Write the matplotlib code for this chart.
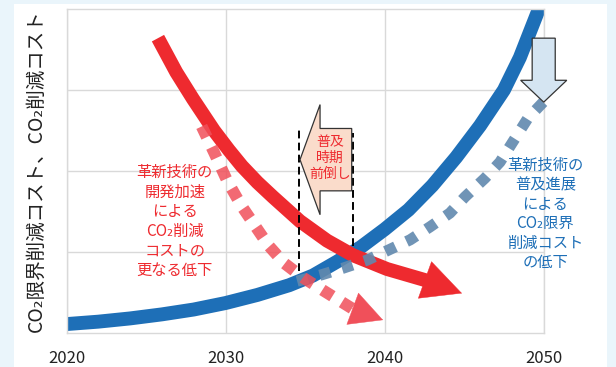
import matplotlib
matplotlib.use("Agg")
import matplotlib.pyplot as plt
from matplotlib.patches import FancyArrow, FancyArrowPatch, Rectangle

plt.rcParams['font.family'] = ['Noto Sans CJK JP', 'DejaVu Sans']

# ---- data ----
years_ticks = [2020, 2030, 2040, 2050]
tick_labels = ["2020", "2030", "2040", "2050"]

blue_x = [2020, 2022, 2024, 2026, 2028, 2030, 2032, 2034, 2035.5, 2037, 2038.5, 2040,
          2041.5, 2043, 2044.5, 2046, 2047.5, 2048.5, 2049.5, 2050.3]
blue_y = [0.11, 0.14, 0.18, 0.23, 0.29, 0.37, 0.47, 0.59, 0.71, 0.88, 1.06, 1.28,
          1.52, 1.82, 2.17, 2.56, 3.00, 3.40, 3.90, 4.30]

red_x = [2025.75, 2026.9, 2027.95, 2029.27, 2030.2, 2031.03, 2032.0, 2032.98, 2034.68,
         2036.38, 2038.01, 2040.15, 2042.6, 2044.86]
red_y = [3.64, 3.22, 2.89, 2.50, 2.26, 2.06, 1.86, 1.68, 1.38,
         1.14, 0.96, 0.79, 0.65, 0.49]

reddot_x = [2028.5, 2029.3, 2030.1, 2031.0, 2031.9, 2032.7, 2033.7, 2034.9, 2036.1, 2037.98, 2039.9]
reddot_y = [2.55, 2.22, 1.88, 1.57, 1.31, 1.08, 0.86, 0.68, 0.53, 0.30, 0.16]

bluedot_x = [2034.5, 2036.06, 2037.38, 2038.9, 2040.2, 2041.6, 2042.85, 2044.1, 2045.05,
             2046.3, 2047.25, 2049.0, 2049.97]
bluedot_y = [0.64, 0.72, 0.80, 0.90, 1.02, 1.15, 1.31, 1.48, 1.68,
             1.91, 2.11, 2.65, 2.85]

shift_x = [2034.64, 2038.03]          # dashed markers of the earlier-adoption window
shift_lo = [0.76, 1.07]
shift_hi = [2.51, 2.47]

ylabel = "CO₂限界削減コスト、CO₂削減コスト"
red_text = "革新技術の\n開発加速\nによる\nCO₂削減\nコストの\n更なる低下"
blue_text = "革新技術の\n普及進展\nによる\nCO₂限界\n削減コスト\nの低下"
mid_text = "普及\n時期\n前倒し"

C_BLUE = "#1E6FB7"
C_RED = "#EE2A2F"
C_REDDOT = "#F0505A"
C_BLUEDOT = "#6189AE"
C_GRID = "#D9D9D9"

fig = plt.figure(figsize=(6.16, 3.67), dpi=100)
fig.patch.set_facecolor("#EAF5FB")
fig.patches.append(Rectangle((14 / 616, 0), (607 - 14) / 616, 1 - 4 / 367,
                             transform=fig.transFigure, facecolor="white",
                             edgecolor="none", zorder=-10))

ax = fig.add_axes([66.5 / 616, 1 - 333 / 367, (543.7 - 66.5) / 616, (333 - 9) / 367])
ax.set_facecolor("white")
ax.set_xlim(2020, 2050)
ax.set_ylim(0, 4)
ax.set_xticks(years_ticks)
ax.set_xticklabels(tick_labels, fontsize=12, color="#222222")
ax.set_yticks([1, 2, 3])
ax.set_yticklabels([])
ax.tick_params(length=0, pad=12)
ax.grid(True, color=C_GRID, lw=1)
for s in ax.spines.values():
    s.set_color(C_GRID)
    s.set_linewidth(1)
ax.set_axisbelow(True)
ax.set_ylabel(ylabel, fontsize=14, labelpad=2, color="#222222")

# blue solid curve
ax.plot(blue_x, blue_y, color=C_BLUE, lw=10, solid_capstyle="butt",
        solid_joinstyle="round", zorder=2)

# red solid arrow
ax.plot(red_x[:-1], red_y[:-1], color=C_RED, lw=10, solid_capstyle="butt",
        solid_joinstyle="round", zorder=3)
ax.add_patch(FancyArrowPatch((red_x[-2], red_y[-2]), (red_x[-1], red_y[-1]),
                             arrowstyle="-|>,head_length=28,head_width=14",
                             mutation_scale=1, shrinkA=0, shrinkB=0,
                             color=C_RED, lw=0.3, zorder=3))

# blue dotted
ax.plot(bluedot_x, bluedot_y, color=C_BLUEDOT, lw=8, linestyle=(0, (1.0, 1.1)),
        dash_capstyle="butt", alpha=0.9, zorder=4, clip_on=False)

# red dotted arrow
ax.plot(reddot_x[:-1], reddot_y[:-1], color=C_REDDOT, lw=8.5, linestyle=(0, (1.0, 0.95)),
        dash_capstyle="butt", alpha=0.85, zorder=5)
ax.add_patch(FancyArrowPatch((reddot_x[-2], reddot_y[-2]), (reddot_x[-1], reddot_y[-1]),
                             arrowstyle="-|>,head_length=23,head_width=12",
                             mutation_scale=1, shrinkA=0, shrinkB=0,
                             color=C_REDDOT, lw=0.3, zorder=5))

# dashed window lines
for x, lo, hi in zip(shift_x, shift_lo, shift_hi):
    ax.plot([x, x], [lo, hi], color="black", lw=1.4, linestyle=(0, (4, 2.2)), zorder=6)

# left-pointing block arrow
ax.add_patch(FancyArrow(2037.93, 2.14, 2034.68 - 2037.93, 0, width=0.77,
                        head_width=1.36, head_length=1.26, length_includes_head=True,
                        facecolor="#FADCCB", edgecolor="#333333", lw=0.9, zorder=7))
ax.text(2036.55, 2.16, mid_text, color=C_RED, fontsize=10, ha="center", va="center",
        linespacing=1.22, zorder=8)

# down-pointing block arrow (top right)
ax.add_patch(FancyArrow(2050, 3.64, 0, -0.79, width=1.45, head_width=2.9,
                        head_length=0.27, length_includes_head=True,
                        facecolor="#D5E5F2", edgecolor="#333333", lw=0.9,
                        zorder=7, clip_on=False))

# annotations
ax.text(2026.8, 1.38, red_text, color=C_RED, fontsize=11, ha="center", va="center",
        linespacing=1.2, zorder=8)
ax.text(2050.1, 1.47, blue_text, color=C_BLUE, fontsize=11, ha="center", va="center",
        linespacing=1.2, zorder=8, clip_on=False)

fig.savefig("out.png", dpi=100, facecolor=fig.get_facecolor())
